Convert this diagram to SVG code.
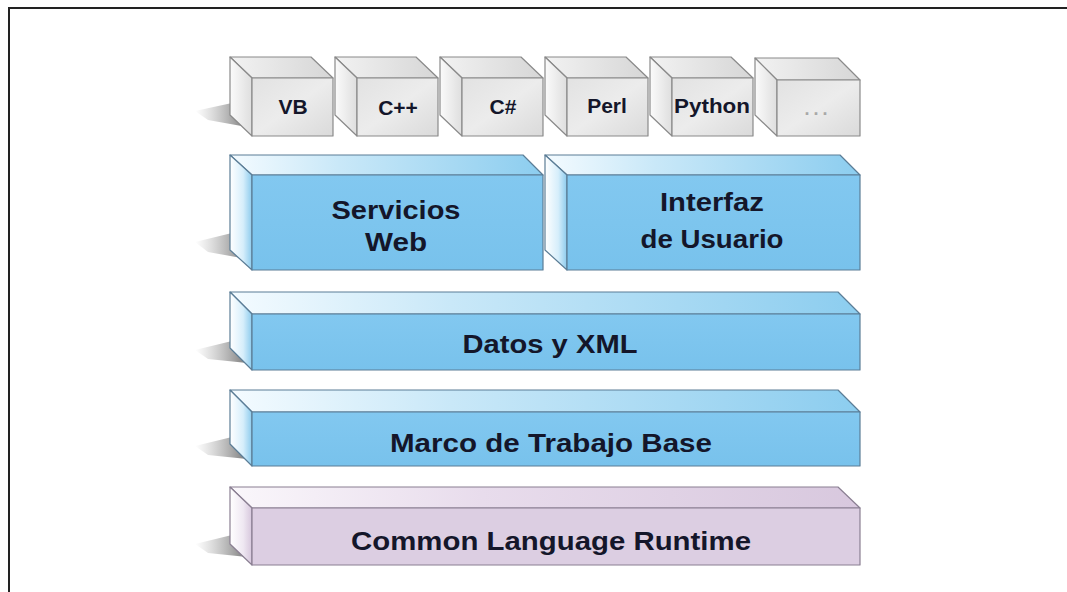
<svg xmlns="http://www.w3.org/2000/svg" width="1067" height="592" viewBox="0 0 1067 592">
<style>
.lbl{font-family:"Liberation Sans",Arial,sans-serif;font-weight:bold;fill:#14162a;text-anchor:middle}
.big{font-size:26px}
.sm{font-size:21px}
.edge{stroke:#5b7d96;stroke-width:1.2;stroke-linejoin:round}
.gedge{stroke:#8a8a8a;stroke-width:1.2;stroke-linejoin:round}
.pedge{stroke:#8a7f92;stroke-width:1.2;stroke-linejoin:round}
</style>
<defs>
<linearGradient id="bTop" x1="0" y1="0" x2="1" y2="0">
<stop offset="0" stop-color="#f4fbff"/><stop offset="0.35" stop-color="#c9e8f8"/><stop offset="1" stop-color="#8ccdef"/>
</linearGradient>
<linearGradient id="bSide" x1="0" y1="0" x2="1" y2="0">
<stop offset="0" stop-color="#ffffff"/><stop offset="0.6" stop-color="#d6eefb"/><stop offset="1" stop-color="#8ccbed"/>
</linearGradient>
<linearGradient id="bFront" x1="0" y1="0" x2="0" y2="1">
<stop offset="0" stop-color="#82c8f0"/><stop offset="1" stop-color="#78c2ec"/>
</linearGradient>
<linearGradient id="pTop" x1="0" y1="0" x2="1" y2="0">
<stop offset="0" stop-color="#faf7fb"/><stop offset="0.4" stop-color="#e8dcec"/><stop offset="1" stop-color="#d8c8de"/>
</linearGradient>
<linearGradient id="pSide" x1="0" y1="0" x2="1" y2="0">
<stop offset="0" stop-color="#ffffff"/><stop offset="0.6" stop-color="#efe8f2"/><stop offset="1" stop-color="#d6c6dc"/>
</linearGradient>
<linearGradient id="gTop" x1="0" y1="0" x2="1" y2="0">
<stop offset="0" stop-color="#f2f2f2"/><stop offset="1" stop-color="#d6d6d6"/>
</linearGradient>
<linearGradient id="gSide" x1="0" y1="0" x2="1" y2="0">
<stop offset="0" stop-color="#fbfbfb"/><stop offset="1" stop-color="#dedede"/>
</linearGradient>
<linearGradient id="gFront" x1="0" y1="0" x2="1" y2="1">
<stop offset="0" stop-color="#e2e2e2"/><stop offset="0.5" stop-color="#ececec"/><stop offset="1" stop-color="#dadada"/>
</linearGradient>
<linearGradient id="shadow" x1="0" y1="0" x2="1" y2="0">
<stop offset="0" stop-color="#9a9a9a" stop-opacity="0"/><stop offset="1" stop-color="#6a6a6a" stop-opacity="0.9"/>
</linearGradient>
</defs>
<rect width="1067" height="592" fill="#ffffff"/>
<path d="M9,592 V8 H1067" fill="none" stroke="#222" stroke-width="2"/>

<g id="shadows">
<polygon points="195,111 232,103 247,127 208,120" fill="url(#shadow)"/>
<polygon points="195,242 232,233 247,259 208,252" fill="url(#shadow)"/>
<polygon points="195,350 232,341 247,363 208,359" fill="url(#shadow)"/>
<polygon points="195,446 232,437 247,459 208,455" fill="url(#shadow)"/>
<polygon points="195,544 232,535 247,557 208,553" fill="url(#shadow)"/>
</g>

<g id="vb">
<polygon class="gedge" points="230,57 311,57 333,78 252,78" fill="url(#gTop)"/>
<polygon class="gedge" points="230,57 252,78 252,136 230,115" fill="url(#gSide)"/>
<rect class="gedge" x="252" y="78" width="81" height="58" fill="url(#gFront)"/>
<text class="lbl sm" x="293" y="114">VB</text>
</g>
<g id="cpp">
<polygon class="gedge" points="335,57 416,57 438,78 357,78" fill="url(#gTop)"/>
<polygon class="gedge" points="335,57 357,78 357,136 335,115" fill="url(#gSide)"/>
<rect class="gedge" x="357" y="78" width="81" height="58" fill="url(#gFront)"/>
<text class="lbl sm" x="398" y="115">C++</text>
</g>
<g id="csharp">
<polygon class="gedge" points="440,57 521,57 543,78 462,78" fill="url(#gTop)"/>
<polygon class="gedge" points="440,57 462,78 462,136 440,115" fill="url(#gSide)"/>
<rect class="gedge" x="462" y="78" width="81" height="58" fill="url(#gFront)"/>
<text class="lbl sm" x="503" y="114">C#</text>
</g>
<g id="perl">
<polygon class="gedge" points="545,57 626,57 648,78 567,78" fill="url(#gTop)"/>
<polygon class="gedge" points="545,57 567,78 567,136 545,115" fill="url(#gSide)"/>
<rect class="gedge" x="567" y="78" width="81" height="58" fill="url(#gFront)"/>
<text class="lbl sm" x="607" y="113">Perl</text>
</g>
<g id="python">
<polygon class="gedge" points="650,57 731,57 753,78 672,78" fill="url(#gTop)"/>
<polygon class="gedge" points="650,57 672,78 672,136 650,115" fill="url(#gSide)"/>
<rect class="gedge" x="672" y="78" width="81" height="58" fill="url(#gFront)"/>
<text class="lbl sm" x="712" y="113" textLength="76" lengthAdjust="spacingAndGlyphs">Python</text>
</g>
<g id="more">
<polygon class="gedge" points="755,58 838,58 860,80 777,80" fill="url(#gTop)"/>
<polygon class="gedge" points="755,58 777,80 777,136 755,115" fill="url(#gSide)"/>
<rect class="gedge" x="777" y="80" width="83" height="56" fill="url(#gFront)"/>
<text x="818" y="115" font-family="Liberation Sans, Arial, sans-serif" font-size="18" font-weight="bold" fill="#a8a8a8" text-anchor="middle" letter-spacing="4">...</text>
</g>

<g id="servicios-web">
<polygon class="edge" points="230,155 523,155 543,175 252,175" fill="url(#bTop)"/>
<polygon class="edge" points="230,155 252,175 252,270 230,250" fill="url(#bSide)"/>
<rect class="edge" x="252" y="175" width="291" height="95" fill="url(#bFront)"/>
<text class="lbl big" x="396" y="219" textLength="129" lengthAdjust="spacingAndGlyphs">Servicios</text>
<text class="lbl big" x="396" y="251" textLength="62" lengthAdjust="spacingAndGlyphs">Web</text>
</g>
<g id="interfaz-usuario">
<polygon class="edge" points="545,155 840,155 860,175 567,175" fill="url(#bTop)"/>
<polygon class="edge" points="545,155 567,175 567,270 545,250" fill="url(#bSide)"/>
<rect class="edge" x="567" y="175" width="293" height="95" fill="url(#bFront)"/>
<text class="lbl big" x="712" y="211" textLength="104" lengthAdjust="spacingAndGlyphs">Interfaz</text>
<text class="lbl big" x="712" y="248" textLength="143" lengthAdjust="spacingAndGlyphs">de Usuario</text>
</g>
<g id="datos-xml">
<polygon class="edge" points="230,292 838,292 860,314 252,314" fill="url(#bTop)"/>
<polygon class="edge" points="230,292 252,314 252,370 230,348" fill="url(#bSide)"/>
<rect class="edge" x="252" y="314" width="608" height="56" fill="url(#bFront)"/>
<text class="lbl big" x="550" y="353" textLength="175" lengthAdjust="spacingAndGlyphs">Datos y XML</text>
</g>
<g id="marco-trabajo-base">
<polygon class="edge" points="230,390 838,390 860,412 252,412" fill="url(#bTop)"/>
<polygon class="edge" points="230,390 252,412 252,466 230,444" fill="url(#bSide)"/>
<rect class="edge" x="252" y="412" width="608" height="54" fill="url(#bFront)"/>
<text class="lbl big" x="551" y="452" textLength="322" lengthAdjust="spacingAndGlyphs">Marco de Trabajo Base</text>
</g>
<g id="clr">
<polygon class="pedge" points="230,487 838,487 860,508 252,508" fill="url(#pTop)"/>
<polygon class="pedge" points="230,487 252,508 252,565 230,544" fill="url(#pSide)"/>
<rect class="pedge" x="252" y="508" width="608" height="57" fill="#dccee2"/>
<text class="lbl big" x="551" y="550" textLength="400" lengthAdjust="spacingAndGlyphs">Common Language Runtime</text>
</g>
<g id="connectors"/>
</svg>
